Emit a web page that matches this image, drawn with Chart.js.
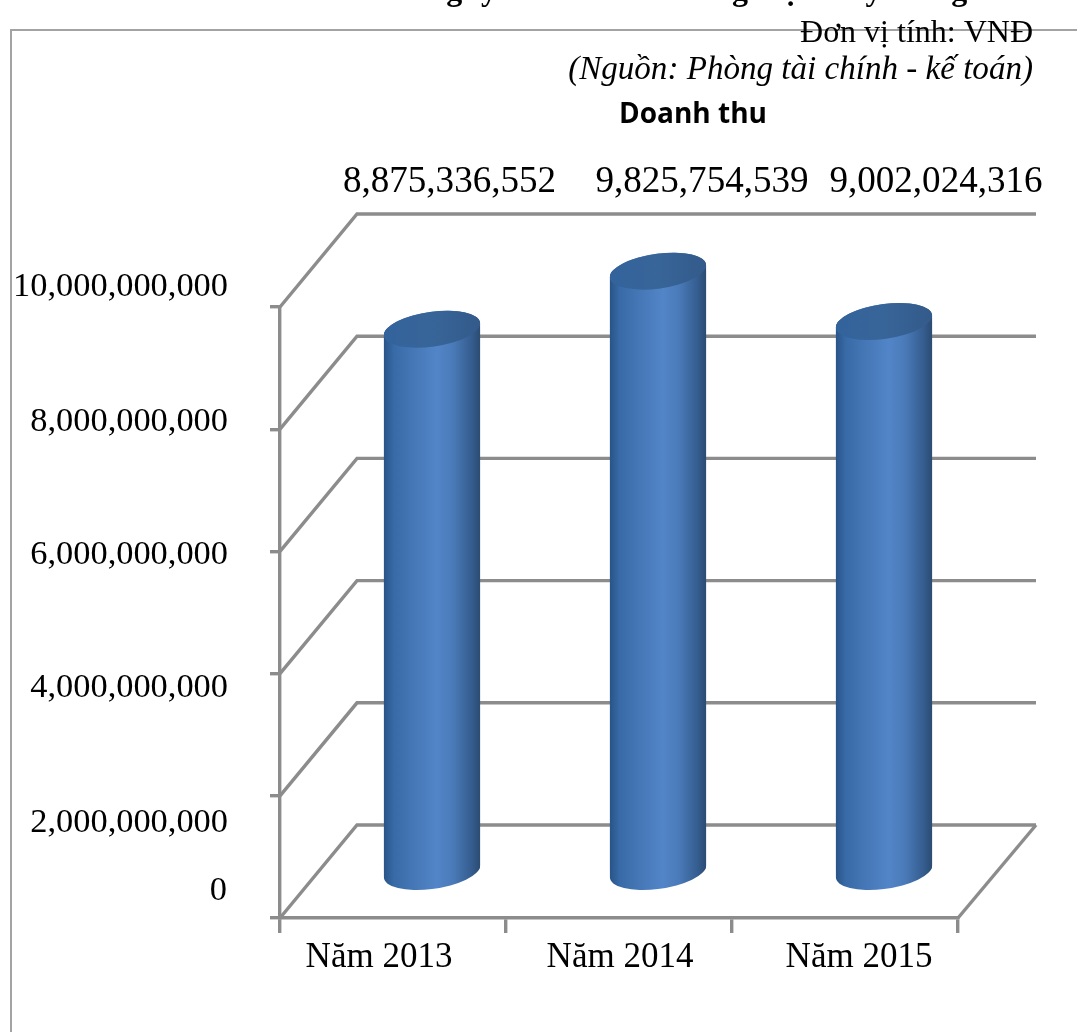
<!DOCTYPE html>
<html lang="vi">
<head>
<meta charset="utf-8">
<title>Doanh thu</title>
<style>
  html, body { margin: 0; padding: 0; background: #fff; overflow: hidden; }
  #wrap { width: 1077px; height: 1032px; position: relative; }
</style>
<script src="https://cdn.jsdelivr.net/npm/chart.js@4/dist/chart.umd.min.js"></script>
</head>
<body>
<div id="wrap"><canvas id="chart" width="1077" height="1032"></canvas></div>
<script>
// Revenue by year, in VND
const categories = ['Năm 2013', 'Năm 2014', 'Năm 2015'];
const revenue = [8875336552, 9825754539, 9002024316];
const yTicks = [0, 2000000000, 4000000000, 6000000000, 8000000000, 10000000000];
const chartTitle = 'Doanh thu';
const unitNote = 'Đơn vị tính: VNĐ';
const sourceNote = '(Nguồn: Phòng tài chính - kế toán)';
const headingStart = 'Doanh thu của Công ty';
const headingEnd = 'TNHH Thương hiệu may Hưng';

// Layout of the pseudo-3D box
const AREA = { left: 280, right: 958, top: 307, bottom: 918 };
const DEPTH = { x: 78, y: -93 };
const BAR = { rx: 48.5, ry: 17.4, tilt: -8 * Math.PI / 180, width: 96 };
const GRID = '#8c8c8c';
const GRID_WIDTH = 3.4;
const SERIF = '"Liberation Serif", serif';

// Hand-placed label nudges relative to their ticks
const yLabelShift = { 0: [-1, -27], 2: [0, 27], 4: [0, 14], 6: [0, 4], 8: [0, -7], 10: [0, -20] };
const xLabelShift = [-14, 1, 14];
const valueLabelX = [449.5, 702, 936];

const fmt = v => v.toLocaleString('en-US');

function sideGradient(ctx, cx) {
  const half = BAR.width / 2;
  const g = ctx.createLinearGradient(cx - half, 0, cx + half, 0);
  g.addColorStop(0, '#2a5488');
  g.addColorStop(0.1, '#376aa6');
  g.addColorStop(0.3, '#4577b6');
  g.addColorStop(0.55, '#5285c8');
  g.addColorStop(0.72, '#4a7ab8');
  g.addColorStop(0.9, '#365f92');
  g.addColorStop(1, '#2b4c74');
  return g;
}

// Silhouette of a tilted cylinder between two ellipse centres
function cylinderPath(p, cx, yTop, yBottom) {
  const { rx, ry, tilt } = BAR;
  const t0 = Math.atan2(-ry * Math.sin(tilt), rx * Math.cos(tilt));
  const startX = cx + rx * Math.cos(t0) * Math.cos(tilt) - ry * Math.sin(t0) * Math.sin(tilt);
  const startY = yBottom + rx * Math.cos(t0) * Math.sin(tilt) + ry * Math.sin(t0) * Math.cos(tilt);
  p.moveTo(startX, startY);
  p.ellipse(cx, yBottom, rx, ry, tilt, t0, t0 + Math.PI);
  p.ellipse(cx, yTop, rx, ry, tilt, t0 + Math.PI, t0 + 2 * Math.PI);
  p.closePath();
}

const boxPlugin = {
  id: 'box',
  beforeDraw(chart) {
    const { ctx, scales: { x, y } } = chart;
    ctx.save();
    ctx.fillStyle = '#fff';
    ctx.fillRect(0, 0, chart.width, chart.height);

    // Outer frame of the chart object
    ctx.strokeStyle = '#a3a3a3';
    ctx.lineWidth = 2;
    ctx.beginPath();
    ctx.moveTo(1077, 30);
    ctx.lineTo(11, 30);
    ctx.lineTo(11, 1032);
    ctx.stroke();

    // Walls: each value runs back from the front axis, then across the rear wall
    ctx.strokeStyle = GRID;
    ctx.lineWidth = GRID_WIDTH;
    const right = x.right + DEPTH.x;
    yTicks.forEach(v => {
      const py = y.getPixelForValue(v);
      ctx.beginPath();
      ctx.moveTo(x.left, py);
      ctx.lineTo(x.left + DEPTH.x - 1, py + DEPTH.y);
      ctx.lineTo(right, py + DEPTH.y);
      ctx.stroke();
    });
    // Floor edge on the right
    const base = y.getPixelForValue(0);
    ctx.beginPath();
    ctx.moveTo(x.right, base);
    ctx.lineTo(right, base + DEPTH.y);
    ctx.stroke();
    ctx.restore();

    // Tick labels sit apart from their ticks on this chart
    y.getLabelItems().forEach((item, i) => {
      const s = yLabelShift[yTicks[i] / 1e9];
      if (s) {
        item.options.translation = [item.options.translation[0] + s[0], item.options.translation[1] + s[1]];
      }
    });
    x.getLabelItems().forEach((item, i) => {
      item.options.translation = [item.options.translation[0] + xLabelShift[i], item.options.translation[1]];
    });
  },
  beforeDatasetsDraw(chart) {
    const { ctx } = chart;
    const { y } = chart.scales;
    const base = y.getPixelForValue(0);
    ctx.save();
    // Bars stand halfway into the box; trim their flat ends to the cylinder outline
    ctx.translate(DEPTH.x / 2, DEPTH.y / 2);
    const clip = new Path2D();
    chart.getDatasetMeta(0).data.forEach(bar => {
      cylinderPath(clip, bar.x, bar.y, base);
    });
    ctx.clip(clip);
  },
  afterDatasetsDraw(chart) {
    const { ctx } = chart;
    ctx.restore();
    const { y } = chart.scales;
    const base = y.getPixelForValue(0);
    ctx.save();
    ctx.translate(DEPTH.x / 2, DEPTH.y / 2);
    chart.getDatasetMeta(0).data.forEach(bar => {
      ctx.fillStyle = sideGradient(ctx, bar.x);
      ctx.beginPath();
      cylinderPath(ctx, bar.x, bar.y, base);
      ctx.fill();
      // Cap
      const g = ctx.createLinearGradient(bar.x - BAR.rx, 0, bar.x + BAR.rx, 0);
      g.addColorStop(0, '#33639c');
      g.addColorStop(0.5, '#386599');
      g.addColorStop(1, '#335a8a');
      ctx.fillStyle = g;
      ctx.beginPath();
      ctx.ellipse(bar.x, bar.y, BAR.rx, BAR.ry, BAR.tilt, 0, Math.PI * 2);
      ctx.fill();
    });
    ctx.restore();
  },
  afterDraw(chart) {
    const { ctx } = chart;
    ctx.save();
    ctx.fillStyle = '#000';
    ctx.textBaseline = 'alphabetic';

    // Value labels above the box
    ctx.textAlign = 'center';
    ctx.font = `37.1px ${SERIF}`;
    revenue.forEach((v, i) => ctx.fillText(fmt(v), valueLabelX[i], 192));

    // Unit and source notes
    ctx.textAlign = 'right';
    ctx.font = `32px ${SERIF}`;
    ctx.fillText(unitNote, 1033, 42);
    ctx.font = `italic 33.1px ${SERIF}`;
    ctx.fillText(sourceNote, 1033, 79);

    ctx.textAlign = 'center';
    ctx.font = 'bold 28px "Open Sans", sans-serif';
    ctx.fillText(chartTitle, 693, 123);

    // Report heading running off the top edge
    ctx.font = `bold 32px ${SERIF}`;
    ctx.textAlign = 'right';
    ctx.fillText(headingStart, 497, 0);
    ctx.textAlign = 'left';
    ctx.fillText(headingEnd, 536, 0);
    ctx.restore();
  }
};

const chart = new Chart(document.getElementById('chart'), {
  type: 'bar',
  data: {
    labels: categories,
    datasets: [{
      label: chartTitle,
      data: revenue,
      barThickness: BAR.width,
      borderWidth: 0,
      backgroundColor: c => {
        const sx = c.chart.scales && c.chart.scales.x;
        const cx = sx ? sx.getPixelForValue(c.dataIndex) : NaN;
        return Number.isFinite(cx) ? sideGradient(c.chart.ctx, cx) : '#4577b6';
      }
    }]
  },
  options: {
    responsive: false,
    animation: false,
    events: [],
    layout: { padding: { left: 0, top: AREA.top, right: 1077 - AREA.right, bottom: 0 } },
    plugins: { legend: { display: false }, title: { display: false }, tooltip: { enabled: false } },
    scales: {
      x: {
        afterFit: s => { s.height = 1032 - AREA.bottom; },
        grid: { drawOnChartArea: false, color: GRID, lineWidth: GRID_WIDTH, tickLength: 15 },
        border: { color: GRID, width: GRID_WIDTH },
        ticks: { color: '#000', font: { family: SERIF, size: 35 }, padding: 4, maxRotation: 0 }
      },
      y: {
        min: 0,
        max: 10000000000,
        afterFit: s => { s.width = AREA.left; },
        afterBuildTicks: s => { s.ticks = yTicks.map(value => ({ value })); },
        grid: { drawOnChartArea: false, color: GRID, lineWidth: GRID_WIDTH, tickLength: 10 },
        border: { color: GRID, width: GRID_WIDTH },
        ticks: { color: '#000', font: { family: SERIF, size: 34.4 }, padding: 42, callback: v => fmt(v) }
      }
    }
  },
  plugins: [boxPlugin]
});
</script>
</body>
</html>
